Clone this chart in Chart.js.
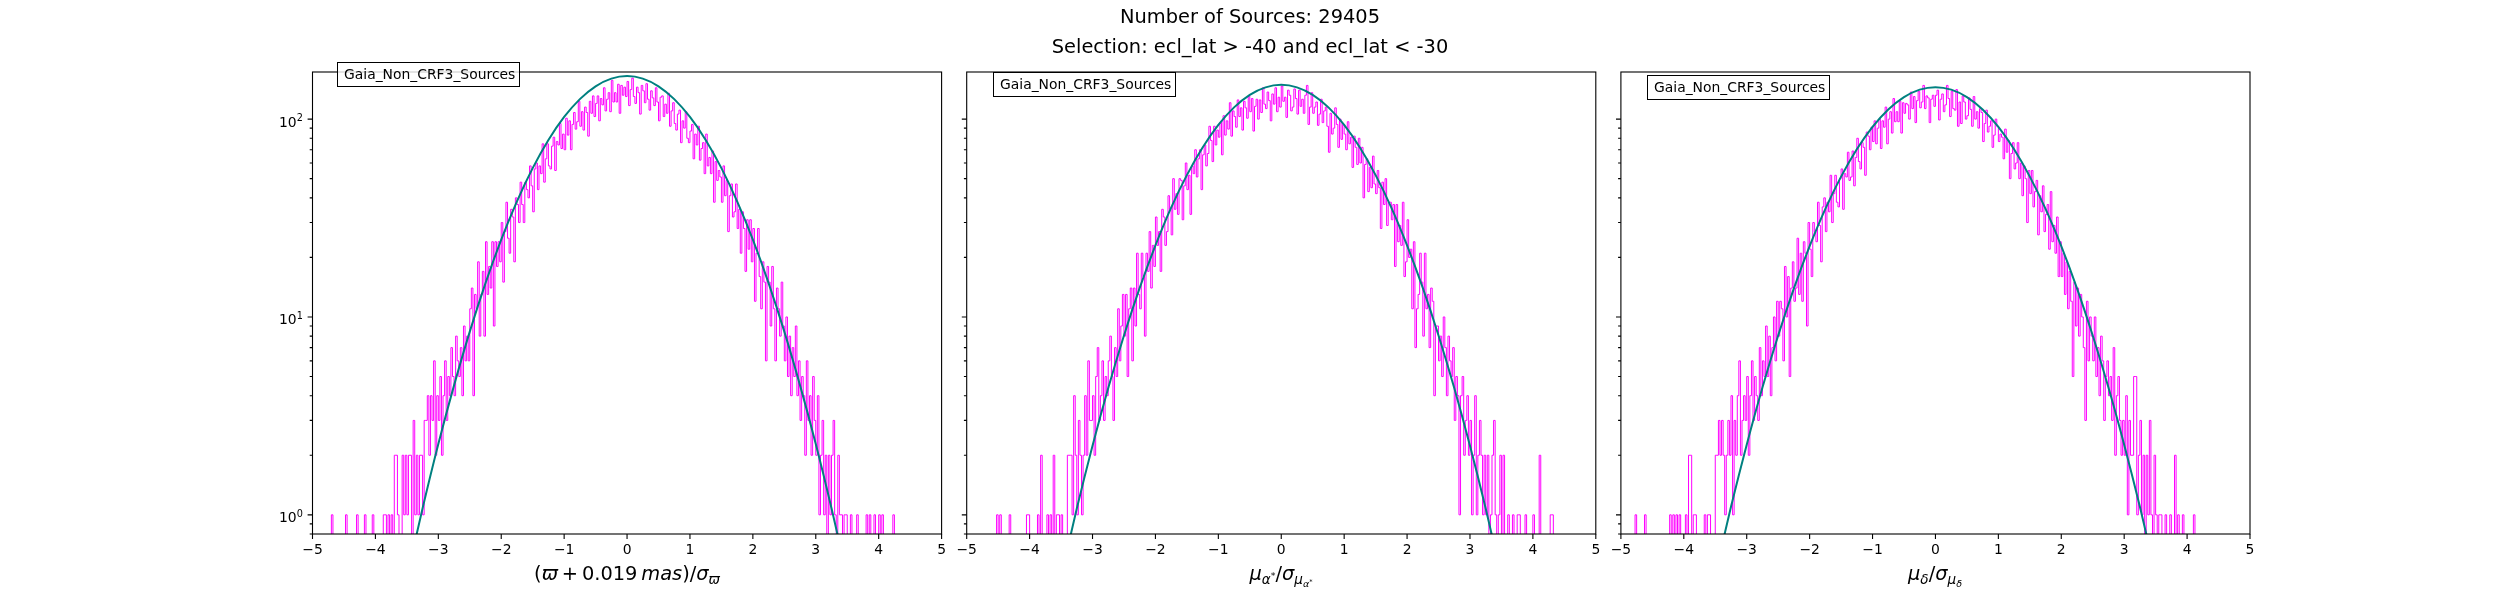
<!DOCTYPE html>
<html>
<head>
<meta charset="utf-8">
<script src="https://cdn.jsdelivr.net/npm/chart.js"></script>
<style>
  html, body { margin: 0; padding: 0; background: #fff; overflow: hidden; }
  #fig { position: relative; width: 2500px; height: 600px; font-family: "DejaVu Sans", sans-serif; color: #000; }
  #fig canvas { position: absolute; left: 0; top: 0; }
  .ttl { position: absolute; left: 0; width: 2500px; text-align: center; font-size: 19.4px; line-height: 19.4px; white-space: nowrap; }
  .xlab { position: absolute; width: 400px; text-align: center; font-size: 19.4px; line-height: 19.4px; white-space: nowrap; }
  .xlab sub { font-size: 70%; vertical-align: -0.3em; line-height: 0; }
  .xlab sup { font-size: 70%; vertical-align: 0.5em; line-height: 0; }
  .leg { position: absolute; box-sizing: border-box; border: 1px solid #000; background: rgba(255,255,255,0.8);
         font-size: 13.9px; line-height: 23px; padding-left: 6px; white-space: nowrap; }
</style>
</head>
<body>
<div id="fig">
  <canvas id="c1" width="2500" height="600"></canvas>
  <canvas id="c2" width="2500" height="600"></canvas>
  <canvas id="c3" width="2500" height="600"></canvas>

  <div class="ttl" style="top:7.4px">Number of Sources: 29405</div>
  <div class="ttl" style="top:37px">Selection: ecl_lat &gt; -40 and ecl_lat &lt; -30</div>

  <div class="leg" style="left:337px;top:62px;width:183px;height:25px">Gaia_Non_CRF3_Sources</div>
  <div class="leg" style="left:993px;top:72px;width:183px;height:25px">Gaia_Non_CRF3_Sources</div>
  <div class="leg" style="left:1647px;top:75px;width:183px;height:25px">Gaia_Non_CRF3_Sources</div>

  <div class="xlab" style="left:427px;top:563.6px">(<i>ϖ</i>&thinsp;+&thinsp;0.019&thinsp;<i>mas</i>)/<i>σ</i><sub><i>ϖ</i></sub></div>
  <div class="xlab" style="left:1081px;top:563.6px"><i>μ</i><sub><i>α</i><sup>*</sup></sub>/<i>σ</i><sub><i>μ</i><sub><i>α</i><sup>*</sup></sub></sub></div>
  <div class="xlab" style="left:1735px;top:563.6px"><i>μ</i><sub><i>δ</i></sub>/<i>σ</i><sub><i>μ</i><sub><i>δ</i></sub></sub></div>
</div>

<script>
// histogram bins: 400 bins of 0.025 from -5 to 5, counts (one line per unit of x)
const binStart = -5;
const binWidth = 0.025;

const countsParallax = [
  1,0,0,0,0,0,0,0,0,0, 0,0,0,1,0,0,0,0,0,0, 0,0,1,0,0,0,0,0,0,1, 0,0,0,0,1,0,0,0,0,1,
  0,0,0,0,0,0,1,1,0,1, 0,1,0,2,2,1,0,0,2,1, 2,1,2,2,0,3,1,2,1,2, 2,1,3,3,4,2,4,3,6,2,
  4,3,5,2,4,6,3,5,4,7, 5,4,8,6,5,7,4,9,6,8, 6,11,14,4,13,11,19,8,13,17, 8,24,13,18,14,24,9,24,18,24,
  19,30,15,27,38,25,21,35,32,19, 40,37,30,48,37,30,48,44,40,58, 46,34,56,60,44,58,53,75,48,63, 75,58,56,73,81,55,77,74,95,71,
  84,70,101,83,98,70,94,108,89,97, 123,92,109,88,115,108,82,123,107,131, 103,120,131,98,127,118,144,110,126,136, 109,157,122,136,122,150,107,148,132,145,
  130,155,117,141,161,130,120,145,136,106, 148,139,121,151,126,111,139,128,117,144, 122,98,129,131,103,119,107,135,92,110, 121,95,88,106,111,76,98,90,109,80,
  76,87,94,63,84,74,92,62,71,76, 53,84,58,64,53,69,38,61,49,55, 51,38,58,41,49,27,41,47,32,34, 47,28,35,21,34,28,17,31,22,31,
  19,28,12,21,28,16,11,19,15,6, 18,15,9,18,11,6,14,11,8,15, 9,6,10,5,8,4,7,5,9,4, 6,3,5,4,2,6,3,4,2,5,
  3,2,4,1,2,3,1,2,0,2, 1,2,3,1,0,2,1,1,0,1, 1,0,0,1,0,0,0,1,0,0, 0,0,0,1,0,1,0,0,1,0,
  0,1,0,1,0,0,0,0,0,0, 1,0,0,0,0,0,0,0,0,0, 0,0,0,0,0,0,0,0,0,0, 0,0,0,0,0,0,0,0,0,0
];

const countsPmra = [
  0,0,0,0,0,0,0,0,0,0, 0,0,0,0,0,0,0,0,0,0, 1,0,1,0,0,0,0,0,1,0, 0,0,0,0,0,0,0,0,0,1,
  1,0,0,0,0,0,1,0,2,0, 0,0,1,0,1,0,2,0,1,1, 0,1,0,0,0,2,2,2,1,4, 2,1,3,2,1,2,4,2,6,3,
  3,4,2,5,7,3,4,6,3,5, 4,6,8,5,3,7,5,11,6,9, 13,8,13,5,11,14,6,14,9,21, 13,11,21,16,8,21,17,27,14,23,
  18,32,23,27,17,35,32,23,27,41, 35,26,50,35,42,33,50,49,31,46, 60,44,52,33,58,53,70,51,63,70, 44,66,74,58,67,92,78,61,92,74,
  88,81,96,66,104,83,98,89,121,82, 110,103,91,125,103,114,88,123,114,101, 131,109,127,87,116,126,100,125,108,144, 119,113,137,124,98,134,119,144,109,129,
  115,147,123,129,102,140,132,110,115,142, 127,106,140,116,126,107,132,148,94,115, 136,107,115,122,93,106,126,96,110,115, 92,68,107,84,90,114,94,72,100,79,
  94,84,70,97,75,81,57,82,72,59, 80,60,72,40,59,63,43,57,45,65, 47,42,55,45,28,48,37,50,29,38, 38,31,37,18,37,24,29,23,38,16,
  19,31,20,22,11,24,7,11,13,21, 15,8,21,11,13,7,14,12,4,9, 9,6,8,5,10,7,4,8,6,5, 7,3,5,4,1,4,5,2,3,4,
  2,3,1,2,4,1,2,3,2,1, 2,1,2,0,1,2,3,1,0,1, 2,0,2,0,0,1,0,0,1,0, 0,1,1,0,0,0,1,0,0,0,
  0,1,0,0,0,2,0,0,0,0, 0,0,1,1,0,0,0,0,0,0, 0,0,0,0,0,0,0,0,0,0, 0,0,0,0,0,0,0,0,0,0
];

const countsPmdec = [
  0,0,0,0,0,0,0,0,0,0, 1,0,0,0,0,0,1,0,0,0, 0,0,0,0,0,0,0,0,0,0, 0,0,1,0,1,0,1,0,1,0,
  0,0,1,0,2,2,0,1,1,0, 0,0,0,0,1,0,1,1,0,0, 0,2,2,3,2,3,2,1,2,3, 2,4,1,3,2,4,6,2,3,4,
  3,5,2,4,6,3,5,4,3,7, 4,6,5,9,5,8,4,7,10,6, 12,8,12,11,6,18,10,16,5,14, 19,12,14,25,13,21,12,24,21,9,
  30,22,16,30,27,24,38,29,19,36, 40,27,38,34,52,30,42,52,38,36, 50,56,35,53,51,68,49,51,69,46, 64,80,61,56,76,72,52,86,82,70,
  91,77,98,75,90,100,71,98,91,115, 75,100,109,85,127,97,109,97,123,85, 121,107,120,118,100,137,113,130,96,124, 138,114,122,148,113,131,128,96,126,132,
  116,132,140,99,126,134,109,118,148,127, 103,138,113,111,141,92,122,95,131,122, 100,104,128,112,92,130,100,109,90,113, 108,77,95,111,86,92,98,72,83,100,
  92,77,84,81,63,89,68,78,50,67, 76,56,60,76,50,60,41,58,50,30, 55,42,55,36,43,49,26,41,34,46, 27,33,37,22,43,24,29,21,32,16,
  24,16,21,13,19,11,17,12,5,15, 9,14,8,13,10,7,3,12,6,10, 8,6,10,5,7,4,8,6,3,5, 6,4,5,3,7,2,4,5,3,2,
  3,2,4,1,3,2,2,5,5,1, 2,3,1,2,0,2,1,3,1,0, 2,1,0,1,1,0,0,1,0,0, 1,0,0,2,0,1,0,0,1,0,
  0,0,0,0,0,1,0,0,0,0, 0,0,0,0,0,0,0,0,0,0, 0,0,0,0,0,0,0,0,0,0, 0,0,0,0,0,0,0,0,0,0
];

// fitted normal curves, read every 0.25
const fitX = [-3.75,-3.5,-3.25,-3,-2.75,-2.5,-2.25,-2,-1.75,-1.5,-1.25,-1,-0.75,-0.5,-0.25,0,
              0.25,0.5,0.75,1,1.25,1.5,1.75,2,2.25,2.5,2.75,3,3.25,3.5,3.75];
const fitParallax = [0.204,0.485,1.08,2.28,4.51,8.43,14.83,24.6,38.4,56.5,78.4,102.5,126.2,146.5,160.2,165,
                     160.2,146.5,126.2,102.5,78.4,56.5,38.4,24.6,14.83,8.43,4.51,2.28,1.08,0.485,0.204];
const fitPmra = [0.21,0.489,1.076,2.232,4.37,8.06,14.02,23.0,35.7,52.1,71.8,93.4,114.6,132.6,144.7,149,
                 144.7,132.6,114.6,93.4,71.8,52.1,35.7,23.0,14.02,8.06,4.37,2.232,1.076,0.489,0.21];
const fitPmdec = [0.218,0.503,1.098,2.262,4.40,8.06,13.96,22.8,35.2,51.2,70.4,91.3,111.8,129.2,140.9,145,
                  140.9,129.2,111.8,91.3,70.4,51.2,35.2,22.8,13.96,8.06,4.40,2.262,1.098,0.503,0.218];

const xTickValues = [-5,-4,-3,-2,-1,0,1,2,3,4,5];
const yDecades = [0.1, 1, 10, 100];
const yMinorSteps = [1,2,3,4,5,6,7,8,9];
const yMin = 0.8, yMax = 173;

const histColor = '#ff00ff';
const fitColor = '#008080';
const panelWidth = 629.1;
const FONT = '"DejaVu Sans", sans-serif';

// empty bins fall below the log axis and get clipped, like matplotlib
function histPoints(counts) {
  const floor = 0.05;
  const pts = [{ x: binStart, y: floor }];
  counts.forEach((c, i) => pts.push({ x: binStart + i * binWidth, y: c > 0 ? c : floor }));
  pts.push({ x: binStart + counts.length * binWidth, y: floor });
  return pts;
}

const mplAxes = {
  id: 'mplAxes',
  afterDatasetsDraw(chart, args, opts) {
    const { ctx, chartArea: a } = chart;
    const xs = chart.scales.x, ys = chart.scales.y;
    ctx.save();
    ctx.strokeStyle = '#000';
    ctx.fillStyle = '#000';
    ctx.lineWidth = 1.1;
    ctx.beginPath();
    xTickValues.forEach(v => {
      const px = xs.getPixelForValue(v);
      ctx.moveTo(px, a.bottom); ctx.lineTo(px, a.bottom + 4.9);
    });
    yDecades.forEach(d => yMinorSteps.forEach(m => {
      const v = m * d;
      if (v < yMin - 1e-9 || v > yMax) return;
      const py = ys.getPixelForValue(v);
      const len = (m === 1) ? 4.9 : 2.8;
      ctx.moveTo(a.left - len, py); ctx.lineTo(a.left, py);
    }));
    ctx.stroke();
    ctx.strokeRect(a.left, a.top, a.right - a.left, a.bottom - a.top);

    ctx.font = '13.9px ' + FONT;
    ctx.textAlign = 'center';
    ctx.textBaseline = 'alphabetic';
    xTickValues.forEach(v => {
      const label = v < 0 ? '\u2212' + Math.abs(v) : String(v);
      ctx.fillText(label, xs.getPixelForValue(v), a.bottom + 20);
    });

    if (opts.yLabels) {
      ctx.textAlign = 'right';
      yDecades.filter(d => d >= 1).forEach(d => {
        const py = ys.getPixelForValue(d);
        const exp = String(Math.round(Math.log10(d)));
        const xr = a.left - 9.7;
        ctx.font = '9.7px ' + FONT;
        const ew = ctx.measureText(exp).width;
        ctx.fillText(exp, xr, py + 2);
        ctx.font = '13.9px ' + FONT;
        ctx.fillText('10', xr - ew, py + 7.5);
      });
    }
    ctx.restore();
  }
};

const panels = [
  { id: 'c1', counts: countsParallax, fit: fitParallax, left: 312.5, yLabels: true },
  { id: 'c2', counts: countsPmra, fit: fitPmra, left: 966.7, yLabels: false },
  { id: 'c3', counts: countsPmdec, fit: fitPmdec, left: 1620.9, yLabels: false }
];

panels.forEach(p => {
  new Chart(document.getElementById(p.id), {
    type: 'line',
    data: {
      datasets: [
        {
          label: 'fit',
          data: fitX.map((x, i) => ({ x, y: p.fit[i] })),
          borderColor: fitColor,
          borderWidth: 2,
          pointRadius: 0,
          cubicInterpolationMode: 'monotone',
          fill: false
        },
        {
          label: 'Gaia_Non_CRF3_Sources',
          data: histPoints(p.counts),
          borderColor: histColor,
          borderWidth: 1,
          pointRadius: 0,
          stepped: 'after',
          fill: false
        }
      ]
    },
    options: {
      responsive: false,
      animation: false,
      devicePixelRatio: 1,
      events: [],
      layout: { padding: { left: p.left, right: 2500 - p.left - panelWidth, top: 72, bottom: 66 } },
      scales: {
        x: { type: 'linear', min: -5, max: 5, display: false },
        y: { type: 'logarithmic', min: yMin, max: yMax, display: false }
      },
      plugins: {
        legend: { display: false },
        tooltip: { enabled: false },
        mplAxes: { yLabels: p.yLabels }
      }
    },
    plugins: [mplAxes]
  });
});
</script>
</body>
</html>
